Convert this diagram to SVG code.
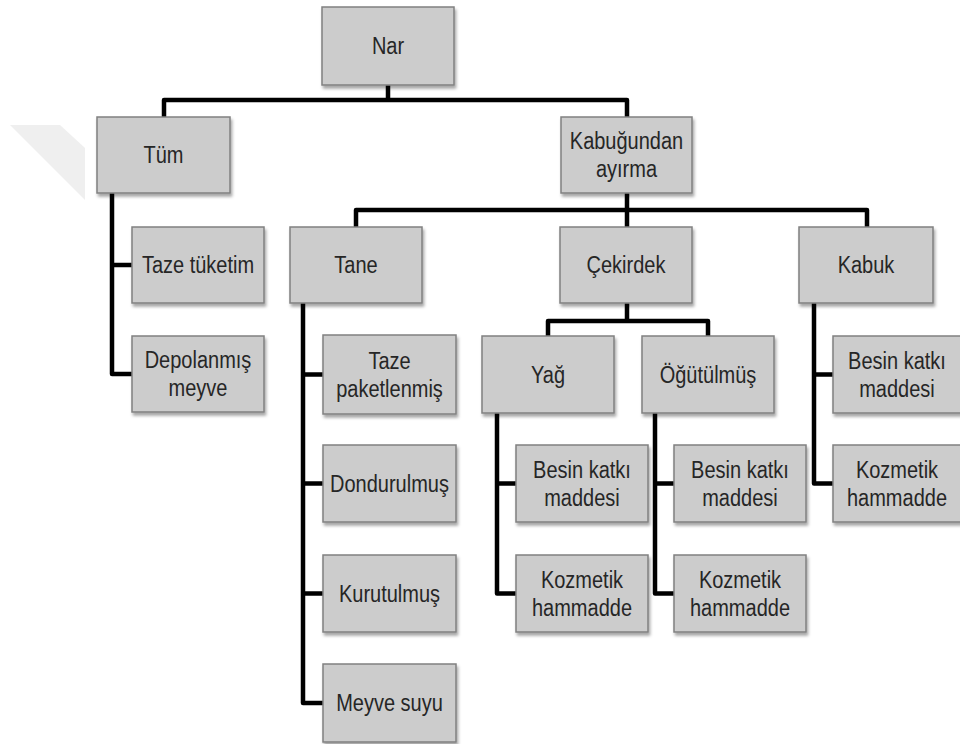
<svg xmlns="http://www.w3.org/2000/svg" width="960" height="744" viewBox="0 0 960 744">
<defs>
<filter id="sh" x="-10%" y="-10%" width="130%" height="140%">
<feDropShadow dx="1.5" dy="3" stdDeviation="1.5" flood-color="#000" flood-opacity="0.35"/>
</filter>
</defs>
<style>
.box{fill:#cccccc;stroke:#808080;stroke-width:1.5;filter:url(#sh)}
.t{font-family:"Liberation Sans",Arial,sans-serif;font-size:20px;fill:#262626;text-anchor:middle}
.c{fill:none;stroke:#000;stroke-width:4.5;stroke-linejoin:round}
</style>
<rect width="960" height="744" fill="#fff"/>
<polygon points="10,125 60,125 85,148 85,200" fill="#efefef"/>
<g id="connectors">
<path class="c" d="M388,85 V100 M164,117 V100 H627 V117"/>
<path class="c" d="M627,193 V227 M356,227 V210 H867 V227"/>
<path class="c" d="M112,193 V374 H132 M112,265 H132"/>
<path class="c" d="M303,303 V703 H323 M303,374.5 H323 M303,483.5 H323 M303,593.5 H323"/>
<path class="c" d="M627,303 V321 M548,336 V321 H708 V336"/>
<path class="c" d="M497,413 V593.5 H516 M497,483.5 H516"/>
<path class="c" d="M655,413 V593.5 H674 M655,483.5 H674"/>
<path class="c" d="M814,303 V483.5 H833 M814,374.5 H833"/>
</g>
<g id="nar"><rect class="box" x="322" y="7" width="132" height="78"/><text class="t" transform="translate(388,54) scale(1,1.15)">Nar</text></g>
<g id="tum"><rect class="box" x="97" y="117" width="133" height="76"/><text class="t" transform="translate(163.5,163) scale(1,1.15)">Tüm</text></g>
<g id="kabugundan"><rect class="box" x="561" y="117" width="131" height="76"/><text class="t" transform="translate(626.5,149) scale(1,1.15)"><tspan x="0">Kabuğundan</tspan><tspan x="0" dy="24.5">ayırma</tspan></text></g>
<g id="taze-tuketim"><rect class="box" x="132" y="227" width="132" height="76"/><text class="t" transform="translate(198,273) scale(1,1.15)">Taze tüketim</text></g>
<g id="depolanmis"><rect class="box" x="132" y="336" width="132" height="76"/><text class="t" transform="translate(198,368) scale(1,1.15)"><tspan x="0">Depolanmış</tspan><tspan x="0" dy="24.5">meyve</tspan></text></g>
<g id="tane"><rect class="box" x="290" y="227" width="132" height="76"/><text class="t" transform="translate(356,273) scale(1,1.15)">Tane</text></g>
<g id="cekirdek"><rect class="box" x="560" y="227" width="132" height="76"/><text class="t" transform="translate(626,273) scale(1,1.15)">Çekirdek</text></g>
<g id="kabuk"><rect class="box" x="799" y="227" width="134" height="76"/><text class="t" transform="translate(866,273) scale(1,1.15)">Kabuk</text></g>
<g id="taze-paketlenmis"><rect class="box" x="323" y="335" width="133" height="79"/><text class="t" transform="translate(389.5,368.5) scale(1,1.15)"><tspan x="0">Taze</tspan><tspan x="0" dy="24.5">paketlenmiş</tspan></text></g>
<g id="dondurulmus"><rect class="box" x="323" y="445" width="133" height="77"/><text class="t" transform="translate(389.5,491.5) scale(1,1.15)">Dondurulmuş</text></g>
<g id="kurutulmus"><rect class="box" x="323" y="555" width="133" height="77"/><text class="t" transform="translate(389.5,601.5) scale(1,1.15)">Kurutulmuş</text></g>
<g id="meyve-suyu"><rect class="box" x="323" y="664" width="133" height="78"/><text class="t" transform="translate(389.5,711) scale(1,1.15)">Meyve suyu</text></g>
<g id="yag"><rect class="box" x="482" y="336" width="132" height="77"/><text class="t" transform="translate(548,382.5) scale(1,1.15)">Yağ</text></g>
<g id="ogutulmus"><rect class="box" x="642" y="336" width="132" height="77"/><text class="t" transform="translate(708,382.5) scale(1,1.15)">Öğütülmüş</text></g>
<g id="yag-besin"><rect class="box" x="516" y="445" width="132" height="77"/><text class="t" transform="translate(582,477.5) scale(1,1.15)"><tspan x="0">Besin katkı</tspan><tspan x="0" dy="24.5">maddesi</tspan></text></g>
<g id="yag-kozmetik"><rect class="box" x="516" y="555" width="132" height="77"/><text class="t" transform="translate(582,587.5) scale(1,1.15)"><tspan x="0">Kozmetik</tspan><tspan x="0" dy="24.5">hammadde</tspan></text></g>
<g id="ogutulmus-besin"><rect class="box" x="674" y="445" width="132" height="77"/><text class="t" transform="translate(740,477.5) scale(1,1.15)"><tspan x="0">Besin katkı</tspan><tspan x="0" dy="24.5">maddesi</tspan></text></g>
<g id="ogutulmus-kozmetik"><rect class="box" x="674" y="555" width="132" height="77"/><text class="t" transform="translate(740,587.5) scale(1,1.15)"><tspan x="0">Kozmetik</tspan><tspan x="0" dy="24.5">hammadde</tspan></text></g>
<g id="kabuk-besin"><rect class="box" x="833" y="336" width="132" height="77"/><text class="t" transform="translate(897,368.5) scale(1,1.15)"><tspan x="0">Besin katkı</tspan><tspan x="0" dy="24.5">maddesi</tspan></text></g>
<g id="kabuk-kozmetik"><rect class="box" x="833" y="445" width="132" height="77"/><text class="t" transform="translate(897,477.5) scale(1,1.15)"><tspan x="0">Kozmetik</tspan><tspan x="0" dy="24.5">hammadde</tspan></text></g>
</svg>
